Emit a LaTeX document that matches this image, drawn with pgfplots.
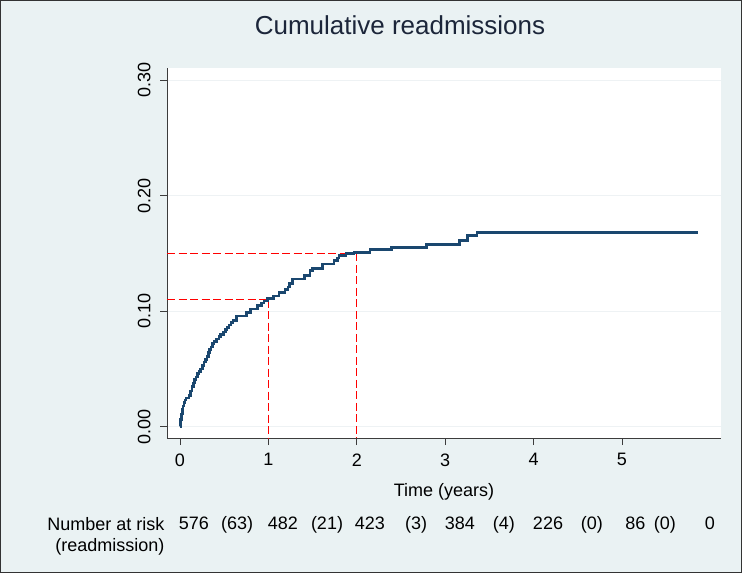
\documentclass[border=0pt]{standalone}
\usepackage{pgfplots}
\pgfplotsset{compat=1.18}
\usepackage{fontspec}
\setmainfont{Liberation Sans}
\definecolor{bg}{RGB}{234,242,243}
\definecolor{stnavy}{RGB}{26,71,111}
\definecolor{titlec}{RGB}{28,38,58}
\definecolor{gridc}{RGB}{238,242,244}
\definecolor{axc}{RGB}{60,60,60}
\definecolor{dred}{RGB}{255,20,20}
\newcommand{\sz}{\fontsize{18}{22}\selectfont}
\tikzset{risk/.style={font=\sz, anchor=base, inner sep=0pt}}

\pgfplotstableread{
x y
0.000 0.000
0.005 0.006
0.015 0.011
0.025 0.015
0.035 0.018
0.045 0.021
0.055 0.023
0.070 0.025
0.100 0.027
0.120 0.031
0.135 0.035
0.150 0.038
0.165 0.041
0.180 0.043
0.200 0.046
0.215 0.048
0.235 0.050
0.255 0.053
0.270 0.056
0.290 0.058
0.305 0.061
0.320 0.064
0.335 0.067
0.350 0.069
0.370 0.072
0.385 0.074
0.410 0.076
0.440 0.078
0.460 0.080
0.490 0.082
0.515 0.084
0.530 0.086
0.555 0.088
0.575 0.090
0.600 0.092
0.640 0.096
0.750 0.099
0.800 0.102
0.880 0.105
0.920 0.107
0.950 0.109
0.990 0.111
1.060 0.113
1.120 0.116
1.190 0.119
1.220 0.121
1.240 0.124
1.270 0.128
1.410 0.131
1.470 0.135
1.500 0.137
1.610 0.141
1.740 0.144
1.780 0.146
1.800 0.148
1.880 0.150
1.970 0.151
2.150 0.1535
2.390 0.155
2.790 0.158
3.160 0.161
3.250 0.1655
3.360 0.168
5.860 0.168
}\cumdata

\begin{document}
\begin{tikzpicture}
\fill[bg] (0pt,0pt) rectangle (742pt,-573pt);
\draw[black!80, line width=1.2pt] (0.6pt,-0.6pt) rectangle (741.4pt,-572.4pt);
\begin{axis}[
  at={(167pt,-438pt)}, anchor=south west,
  scale only axis, width=554pt, height=370pt,
  xmin=-0.147, xmax=6.12, ymin=-0.0098, ymax=0.3106,
  axis x line*=bottom, axis y line*=left,
  axis line style={axc, line width=0.8pt, -},
  axis background/.style={fill=white},
  xtick={0,1,2,3,4,5}, xticklabels={0,1,2,3,4,5},
  ytick={0,0.1,0.2,0.3}, yticklabels={0.00,0.10,0.20,0.30},
  /pgf/number format/assume math mode=true,
  tick align=outside, major tick length=7pt,
  tick style={axc, line width=0.8pt},
  ymajorgrids, grid style={gridc, line width=0.6pt},
  ticklabel style={font=\sz},
  xticklabel style={yshift=-5pt},
  yticklabel style={rotate=90, anchor=south, yshift=6pt},
  xlabel={Time (years)},
  xlabel style={font=\sz, at={(axis description cs:0.5,0)}, anchor=center, yshift=-54pt},
  title={Cumulative readmissions},
  title style={font=\fontsize{26}{30}\selectfont, text=titlec, at={(axis description cs:0.4206,1)}, anchor=center, yshift=37pt},
  clip=false,
]
\addplot[draw=red, line width=1.3pt, dash pattern=on 8pt off 3.5pt] coordinates {(-0.145,0.15) (2,0.15)};
\addplot[draw=red, line width=1.3pt, dash pattern=on 8pt off 3.5pt] coordinates {(2,0.15) (2,-0.0098)};
\addplot[draw=red, line width=1.3pt, dash pattern=on 8pt off 3.5pt] coordinates {(-0.145,0.11) (1,0.11)};
\addplot[draw=red, line width=1.3pt, dash pattern=on 8pt off 3.5pt] coordinates {(1,0.11) (1,-0.0098)};
\addplot[stnavy, line width=2.6pt, const plot, line join=miter] table[x=x,y=y] {\cumdata};
\node[risk] at (axis cs:0.158,-0.0894) {576};
\node[risk] at (axis cs:0.645,-0.0894) {(63)};
\node[risk] at (axis cs:1.165,-0.0894) {482};
\node[risk] at (axis cs:1.663,-0.0894) {(21)};
\node[risk] at (axis cs:2.149,-0.0894) {423};
\node[risk] at (axis cs:2.670,-0.0894) {(3)};
\node[risk] at (axis cs:3.167,-0.0894) {384};
\node[risk] at (axis cs:3.665,-0.0894) {(4)};
\node[risk] at (axis cs:4.163,-0.0894) {226};
\node[risk] at (axis cs:4.660,-0.0894) {(0)};
\node[risk] at (axis cs:5.150,-0.0894) {86};
\node[risk] at (axis cs:5.486,-0.0894) {(0)};
\node[risk] at (axis cs:5.995,-0.0894) {0};
\end{axis}
\node[font=\sz, anchor=base east, inner sep=0pt] at (164.5pt,-530pt) {Number at risk};
\node[font=\sz, anchor=base east, inner sep=0pt] at (164.5pt,-551pt) {(readmission)};
\end{tikzpicture}
\end{document}
